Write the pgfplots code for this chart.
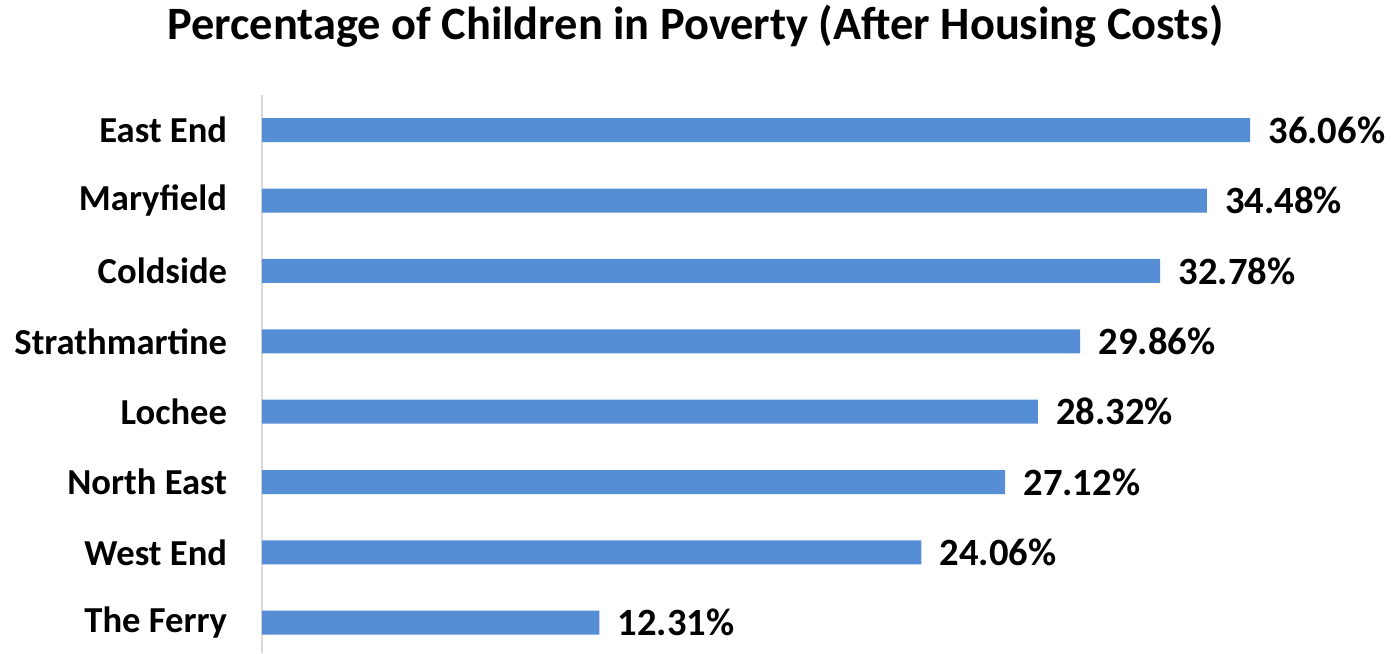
\documentclass[border=0pt]{standalone}
\usepackage{fontspec}
\setmainfont{Carlito}
\usepackage{pgfplots}
\pgfplotsset{compat=1.18}
\definecolor{barblue}{HTML}{558ED5}
\definecolor{axisgray}{HTML}{D9D9D9}

\begin{document}
\begin{tikzpicture}
  % fixed page: 1391x653 px at 0.5pt per px
  \path[use as bounding box] (0,0) rectangle (695.5pt,326.5pt);
  \node[anchor=base, font=\fontsize{23.2}{27}\selectfont\bfseries]
    at (347.75pt,306.5pt) {Percentage of Children in Poverty (After Housing Costs)};
  \begin{axis}[
      at={(131pt,0pt)}, anchor=south west,
      scale only axis,
      width=548pt, height=279pt,
      xbar,
      bar width=12pt,
      xmin=0, xmax=40,
      ymin=-0.43, ymax=7.5,
      axis x line=none,
      axis y line*=left,
      y axis line style={draw=axisgray, line width=0.6pt},
      ytick={0,...,7},
      yticklabels={The Ferry, West End, North East, Lochee, Strathmartine, Coldside, Maryfield, East End},
      ytick style={draw=none},
      yticklabel style={font=\fontsize{18.3}{21}\selectfont\bfseries, inner sep=0pt, xshift=-13pt},
      clip=false,
      nodes near coords={\pgfmathprintnumber[fixed,zerofill,precision=2,assume math mode=true]{\pgfplotspointmeta}\%},
      nodes near coords style={anchor=west, inner sep=0pt, xshift=9pt,
        font=\fontsize{19.3}{22}\selectfont\bfseries},
      point meta=x,
    ]
    \addplot[fill=barblue, draw=none] coordinates {
      (12.31,0) (24.06,1) (27.12,2) (28.32,3)
      (29.86,4) (32.78,5) (34.48,6) (36.06,7)
    };
  \end{axis}
\end{tikzpicture}
\end{document}
